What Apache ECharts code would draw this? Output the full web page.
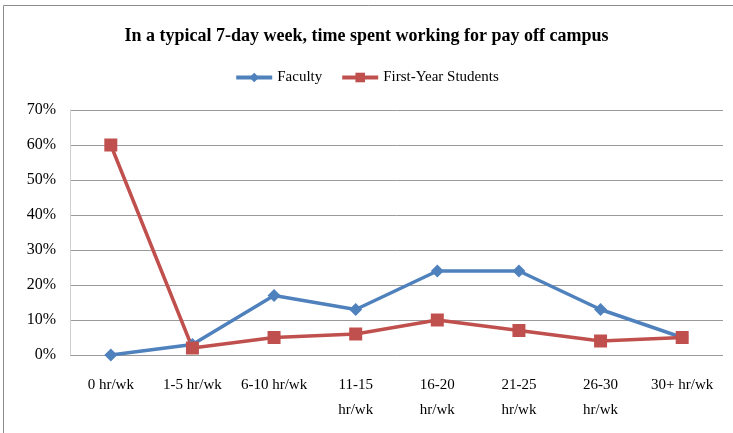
<!DOCTYPE html>
<html>
<head>
<meta charset="utf-8">
<script src="https://cdn.jsdelivr.net/npm/echarts@6/dist/echarts.min.js"></script>
<style>
  html, body { margin: 0; padding: 0; background: #fff; }
  #chart { width: 733px; height: 433px; }
</style>
</head>
<body>
<div id="chart"></div>
<script>
// 数据
const categories = ['0 hr/wk', '1-5 hr/wk', '6-10 hr/wk', '11-15\nhr/wk', '16-20\nhr/wk', '21-25\nhr/wk', '26-30\nhr/wk', '30+ hr/wk'];
const faculty = [0, 3, 17, 13, 24, 24, 13, 5];
const students = [60, 2, 5, 6, 10, 7, 4, 5];
const yTicks = [0, 10, 20, 30, 40, 50, 60, 70];

const font = 'Liberation Serif, Times New Roman, serif';
const chart = echarts.init(document.getElementById('chart'));

chart.setOption({
  backgroundColor: '#fff',
  animation: false,
  graphic: [{
    type: 'rect',
    shape: { x: 3.5, y: 5.5, width: 740, height: 440 },
    style: { fill: 'none', stroke: '#8c8c8c', lineWidth: 1 }
  }],
  title: {
    text: 'In a typical 7-day week, time spent working for pay off campus',
    left: 'center',
    top: 22,
    textStyle: { fontFamily: font, fontSize: 18, fontWeight: 'bold', color: '#000' }
  },
  legend: {
    top: 65,
    left: 'center',
    itemWidth: 36,
    itemHeight: 12,
    itemGap: 18,
    lineStyle: { width: 4 },
    textStyle: { fontFamily: font, fontSize: 15, color: '#000' },
    data: ['Faculty', 'First-Year Students']
  },
  grid: { left: 70, right: 10, top: 110, bottom: 78 },
  xAxis: {
    type: 'category',
    data: categories,
    boundaryGap: true,
    axisLine: { show: false },
    axisTick: { show: false },
    axisLabel: {
      interval: 0,
      margin: 18,
      fontFamily: font,
      fontSize: 15,
      lineHeight: 25,
      color: '#000',
      verticalAlign: 'top'
    }
  },
  yAxis: {
    type: 'value',
    min: yTicks[0],
    max: yTicks[yTicks.length - 1],
    interval: 10,
    axisLine: { show: true, lineStyle: { color: '#d0d0d0' } },
    axisTick: { show: false },
    splitLine: { lineStyle: { color: '#9a9a9a', width: 1 } },
    axisLabel: {
      margin: 14,
      fontFamily: font,
      fontSize: 16,
      color: '#000',
      formatter: v => v + '%'
    }
  },
  series: [
    {
      name: 'Faculty',
      type: 'line',
      data: faculty,
      symbol: 'diamond',
      symbolSize: 13,
      lineStyle: { width: 3.5, color: '#4F81BD' },
      itemStyle: { color: '#4F81BD' }
    },
    {
      name: 'First-Year Students',
      type: 'line',
      data: students,
      symbol: 'rect',
      symbolSize: 13,
      lineStyle: { width: 3.5, color: '#C0504D' },
      itemStyle: { color: '#C0504D' }
    }
  ]
});
</script>
</body>
</html>
